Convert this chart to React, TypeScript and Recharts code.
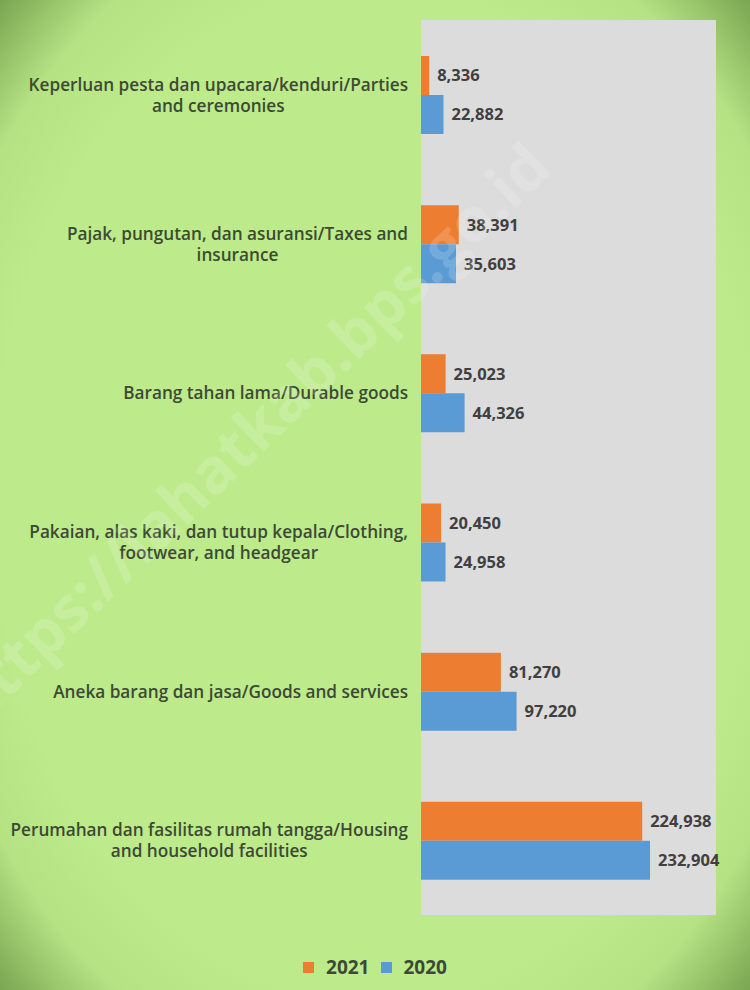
import React from "react";
import { BarChart, Bar, XAxis, YAxis, CartesianGrid, LabelList } from "recharts";

const categoryLines: string[][] = [
  ["Keperluan pesta dan upacara/kenduri/Parties", "and ceremonies"],
  ["Pajak, pungutan, dan asuransi/Taxes and", "insurance"],
  ["Barang tahan lama/Durable goods"],
  ["Pakaian, alas kaki, dan tutup kepala/Clothing,", "footwear, and headgear"],
  ["Aneka barang dan jasa/Goods and services"],
  ["Perumahan dan fasilitas rumah tangga/Housing", "and household facilities"],
];
const values2021 = [8336, 38391, 25023, 20450, 81270, 224938];
const values2020 = [22882, 35603, 44326, 24958, 97220, 232904];

const data = categoryLines.map((lines, i) => ({
  name: lines.join(" "),
  idx: i,
  y2021: values2021[i],
  y2020: values2020[i],
}));

const textColor = "#3d4a33";
const font = "'Open Sans', sans-serif";

function CategoryTick(props: any) {
  const { x, y, payload } = props;
  const lines = categoryLines[payload.index] || [payload.value];
  const h = lines.length * 21;
  return (
    <foreignObject x={x - 415} y={y - h / 2 - 4} width={410} height={h + 8}>
      <div
        style={{
          display: "flex",
          justifyContent: "flex-end",
          fontFamily: font,
          fontWeight: 600,
          fontSize: 17.2,
          lineHeight: "21px",
          color: textColor,
          paddingTop: 4,
        }}
      >
        <div style={{ textAlign: "center", whiteSpace: "nowrap" }}>
          {lines.map((l, k) => (
            <div key={k}>{l}</div>
          ))}
        </div>
      </div>
    </foreignObject>
  );
}

const fmt = (v: any) => Number(v).toLocaleString("en-US");
const valueStyle = { fill: "#404040", fontFamily: font, fontWeight: 700, fontSize: 16.5 };

export default function App() {
  return (
    <div
      style={{
        position: "absolute",
        left: 0,
        top: 0,
        width: 750,
        height: 990,
        background: "radial-gradient(ellipse at center, #bdeb8c 72%, #b5e283 86%, #7aa552 100%)",
        overflow: "hidden",
      }}
    >
      <BarChart
        width={750}
        height={990}
        data={data}
        layout="vertical"
        margin={{ top: 20, right: 34, bottom: 75, left: 0 }}
        barGap={0}
        barSize={39}
      >
        <CartesianGrid fill="#dcdcdc" stroke="none" horizontal={false} vertical={false} />
        <XAxis type="number" domain={[0, 300000]} hide />
        <YAxis
          type="category"
          dataKey="name"
          width={421}
          axisLine={false}
          tickLine={false}
          tick={<CategoryTick />}
          interval={0}
        />
        <Bar dataKey="y2021" name="2021" fill="#ed7d31" isAnimationActive={false}>
          <LabelList dataKey="y2021" position="right" offset={8} formatter={fmt} style={valueStyle} />
        </Bar>
        <Bar dataKey="y2020" name="2020" fill="#5b9bd5" isAnimationActive={false}>
          <LabelList dataKey="y2020" position="right" offset={8} formatter={fmt} style={valueStyle} />
        </Bar>
      </BarChart>
      <div
        style={{
          position: "absolute",
          top: 954,
          left: 0,
          width: 750,
          display: "flex",
          justifyContent: "center",
          alignItems: "center",
          gap: 11,
          fontFamily: font,
          fontWeight: 700,
          fontSize: 19,
          color: textColor,
          paddingLeft: 0,
        }}
      >
        <span style={{ display: "flex", alignItems: "center", gap: 12 }}>
          <span style={{ width: 11, height: 11, background: "#ed7d31", display: "inline-block" }} />
          2021
        </span>
        <span style={{ display: "flex", alignItems: "center", gap: 12 }}>
          <span style={{ width: 11, height: 11, background: "#5b9bd5", display: "inline-block" }} />
          2020
        </span>
      </div>
      <svg
        width={750}
        height={990}
        style={{ position: "absolute", left: 0, top: 0, pointerEvents: "none" }}
      >
        <text
          x={265}
          y={450}
          textAnchor="middle"
          transform="rotate(-44 265 450)"
          fontFamily={font}
          fontWeight={700}
          fontSize={62}
          fill="#ffffff"
          opacity={0.16}
        >
          https://lahatkab.bps.go.id
        </text>
      </svg>
    </div>
  );
}
